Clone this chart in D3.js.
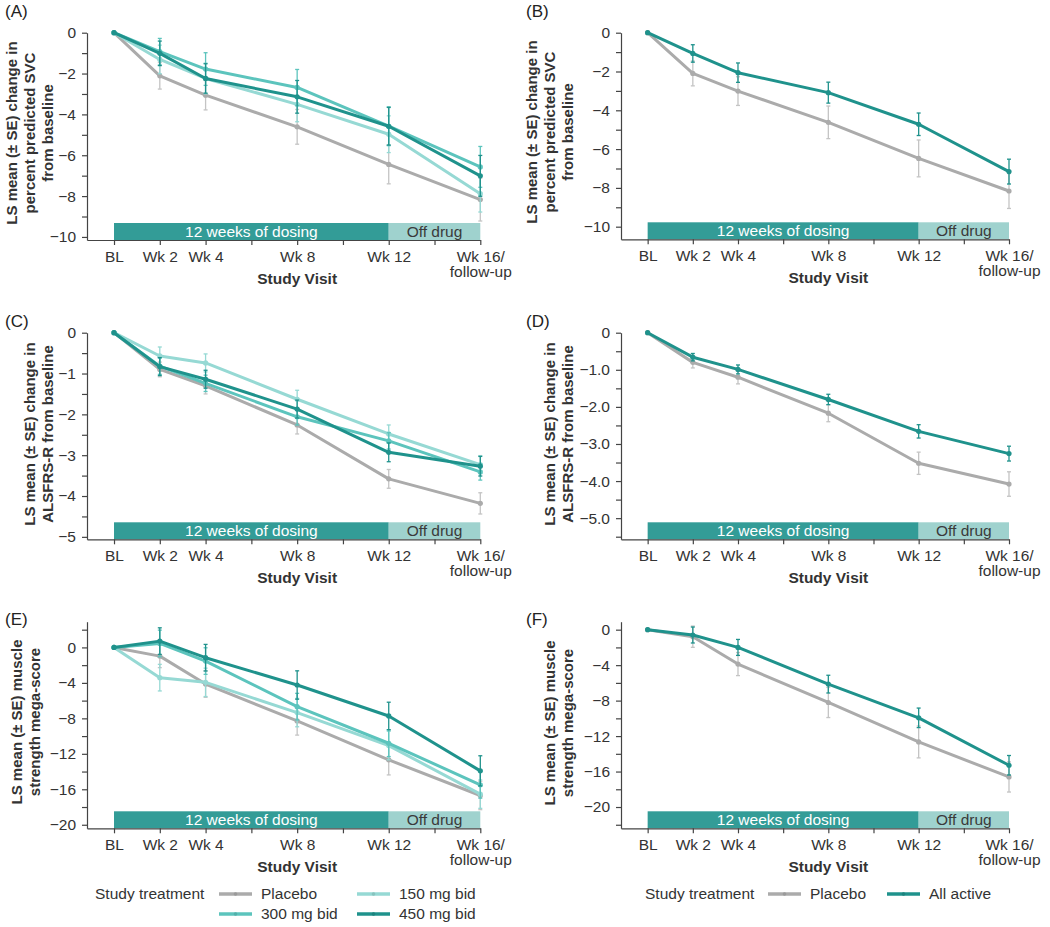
<!DOCTYPE html>
<html><head><meta charset="utf-8">
<script src="https://cdn.jsdelivr.net/npm/d3@7"></script>
<style>
body{margin:0;background:#fff;}
svg{display:block;font-family:"Liberation Sans",Arial,Helvetica,sans-serif;}
</style></head>
<body><svg id="chart" width="1050" height="927"></svg>
<script>
// ---------- DATA ----------
const weeks = [0, 2, 4, 8, 12, 16];
const visitLabels = ["BL", "Wk 2", "Wk 4", "Wk 8", "Wk 12", "Wk 16/|follow-up"];
const xTickWeeks = [0, 2, 4, 6, 8, 10, 12, 14, 16];
const doseGroups = ["Placebo", "150 mg bid", "300 mg bid", "450 mg bid"];
const pooledGroups = ["Placebo", "All active"];
const legendTitle = "Study treatment";
const dosingLabels = ["12 weeks of dosing", "Off drug"];
const dosingWeeks = [0, 12, 16];

// (A) percent predicted SVC by dose
const svcPlacebo   = [0, -2.11, -3.06, -4.61, -6.45, -8.17];
const svcPlaceboSE = [0, 0.65, 0.72, 0.85, 0.95, 1.05];
const svc150       = [0, -1.31, -2.24, -3.51, -4.97, -7.88];
const svc150SE     = [0, 0.70, 0.75, 0.85, 0.90, 0.90];
const svc300       = [0, -0.93, -1.78, -2.68, -4.58, -6.57];
const svc300SE     = [0, 0.65, 0.80, 0.88, 0.95, 1.00];
const svc450       = [0, -1.01, -2.24, -3.14, -4.58, -7.01];
const svc450SE     = [0, 0.60, 0.72, 0.80, 0.92, 1.00];
// (B) percent predicted SVC pooled
const svcPoolPlacebo   = [0, -2.10, -3.01, -4.62, -6.48, -8.16];
const svcPoolPlaceboSE = [0, 0.64, 0.74, 0.84, 0.95, 0.90];
const svcPoolActive    = [0, -1.07, -2.06, -3.09, -4.72, -7.16];
const svcPoolActiveSE  = [0, 0.45, 0.50, 0.54, 0.58, 0.64];
// (C) ALSFRS-R by dose
const alsPlacebo   = [0, -0.90, -1.30, -2.26, -3.58, -4.18];
const alsPlaceboSE = [0, 0.18, 0.20, 0.22, 0.23, 0.26];
const als150       = [0, -0.57, -0.74, -1.63, -2.48, -3.23];
const als150SE     = [0, 0.22, 0.22, 0.22, 0.22, 0.22];
const als300       = [0, -0.82, -1.24, -2.06, -2.65, -3.41];
const als300SE     = [0, 0.20, 0.20, 0.20, 0.20, 0.20];
const als450       = [0, -0.83, -1.14, -1.87, -2.93, -3.27];
const als450SE     = [0, 0.22, 0.22, 0.22, 0.23, 0.24];
// (D) ALSFRS-R pooled
const alsPoolPlacebo   = [0, -0.80, -1.20, -2.17, -3.52, -4.08];
const alsPoolPlaceboSE = [0, 0.15, 0.18, 0.23, 0.30, 0.33];
const alsPoolActive    = [0, -0.66, -0.99, -1.80, -2.66, -3.26];
const alsPoolActiveSE  = [0, 0.10, 0.12, 0.14, 0.18, 0.20];
// (E) muscle strength mega-score by dose
const msPlacebo   = [0, -0.98, -4.13, -8.29, -12.68, -16.70];
const msPlaceboSE = [0, 1.3, 1.5, 1.6, 1.7, 1.6];
const ms150       = [0, -3.41, -3.94, -7.35, -11.07, -16.55];
const ms150SE     = [0, 1.5, 1.6, 1.6, 1.6, 1.6];
const ms300       = [0, 0.45, -1.54, -6.68, -10.81, -15.50];
const ms300SE     = [0, 1.5, 1.5, 1.5, 1.5, 1.5];
const ms450       = [0, 0.71, -1.16, -4.24, -7.73, -13.92];
const ms450SE     = [0, 1.5, 1.5, 1.6, 1.55, 1.7];
// (F) muscle strength mega-score pooled
const msPoolPlacebo   = [0, -0.79, -3.88, -8.21, -12.66, -16.61];
const msPoolPlaceboSE = [0, 1.2, 1.3, 1.7, 1.8, 1.7];
const msPoolActive    = [0, -0.60, -2.00, -6.14, -9.94, -15.29];
const msPoolActiveSE  = [0, 0.9, 0.9, 1.0, 1.1, 1.1];

// y tick values (labelled) and minor ticks
const yTicksSVC = [0, -2, -4, -6, -8, -10];
const yMinorSVC = [-1, -3, -5, -7, -9];
const yTicksALS = [0, -1, -2, -3, -4, -5];
const yMinorALS = [-0.5, -1.5, -2.5, -3.5, -4.5];
const yTicksALSd = [0, -1, -2, -3, -4, -5];
const yMinorALSd = [-0.5, -1.5, -2.5, -3.5, -4.5, -5.5];
const yTicksMS = [0, -4, -8, -12, -16, -20];
const yMinorMSe = [2, -2, -6, -10, -14, -18];
const yMinorMSf = [-2, -6, -10, -14, -18, -22];

// ---------- STYLE ----------
const colors = {
  "Placebo": "#ababab",
  "150 mg bid": "#96d9d4",
  "300 mg bid": "#5cc4bd",
  "450 mg bid": "#1f928c",
  "All active": "#1f928c"
};
const dosingColors = ["#339c97", "#9fd2ce"];
const textColor = "#333";
const svg = d3.select("#chart");
svg.append("rect").attr("width", 1050).attr("height", 927).attr("fill", "#fff");

const minus = s => String(s).replace("-", "\u2212");
const fmtInt = d => minus(d3.format("d")(d));
const fmtD1 = d => d === 0 ? "0" : minus(d3.format(".1f")(d));

const panels = [
  { tag: "(A)", tagPos: [5, 17], axisX: 87, xEnd: 480.3, yRange: [32.7, 240], yDomain: [0, -10.15],
    ticks: yTicksSVC, minor: yMinorSVC, fmt: fmtInt,
    ylab: ["LS mean (\u00b1 SE) change in", "percent predicted SVC", "from baseline"], ylabX: 52.5, ylabY: 133,
    series: [[doseGroups[0], svcPlacebo, svcPlaceboSE], [doseGroups[1], svc150, svc150SE], [doseGroups[2], svc300, svc300SE], [doseGroups[3], svc450, svc450SE]] },
  { tag: "(B)", tagPos: [526, 17], axisX: 621, xEnd: 1009, yRange: [32.7, 239.3], yDomain: [0, -10.65],
    ticks: yTicksSVC, minor: yMinorSVC, fmt: fmtInt,
    ylab: ["LS mean (\u00b1 SE) change in", "percent predicted SVC", "from baseline"], ylabX: 573, ylabY: 132,
    series: [[pooledGroups[0], svcPoolPlacebo, svcPoolPlaceboSE], [pooledGroups[1], svcPoolActive, svcPoolActiveSE]] },
  { tag: "(C)", tagPos: [5, 327], axisX: 87, xEnd: 480.3, yRange: [332.7, 539.3], yDomain: [0, -5.06],
    ticks: yTicksALS, minor: yMinorALS, fmt: fmtInt,
    ylab: ["LS mean (\u00b1 SE) change in", "ALSFRS-R from baseline"], ylabX: 52.5, ylabY: 434,
    series: [[doseGroups[0], alsPlacebo, alsPlaceboSE], [doseGroups[1], als150, als150SE], [doseGroups[2], als300, als300SE], [doseGroups[3], als450, als450SE]] },
  { tag: "(D)", tagPos: [526, 327], axisX: 621, xEnd: 1009, yRange: [332.7, 539.3], yDomain: [0, -5.57],
    ticks: yTicksALSd, minor: yMinorALSd, fmt: fmtD1,
    ylab: ["LS mean (\u00b1 SE) change in", "ALSFRS-R from baseline"], ylabX: 573, ylabY: 434,
    series: [[pooledGroups[0], alsPoolPlacebo, alsPoolPlaceboSE], [pooledGroups[1], alsPoolActive, alsPoolActiveSE]] },
  { tag: "(E)", tagPos: [5, 625], axisX: 87, xEnd: 480.3, yRange: [621.7, 828.3], yDomain: [2.9, -20.4],
    ticks: yTicksMS, minor: yMinorMSe, fmt: fmtInt,
    ylab: ["LS mean (\u00b1 SE) muscle", "strength mega-score"], ylabX: 39.7, ylabY: 722,
    series: [[doseGroups[0], msPlacebo, msPlaceboSE], [doseGroups[1], ms150, ms150SE], [doseGroups[2], ms300, ms300SE], [doseGroups[3], ms450, ms450SE]],
    legend: { title: [95, 894], items: doseGroups, swatchX: [219, 357], rows: [894, 914], textOff: 42 } },
  { tag: "(F)", tagPos: [526, 625], axisX: 621, xEnd: 1009, yRange: [621.7, 828.3], yDomain: [0.9, -22.4],
    ticks: yTicksMS, minor: yMinorMSf, fmt: fmtInt,
    ylab: ["LS mean (\u00b1 SE) muscle", "strength mega-score"], ylabX: 573, ylabY: 723,
    series: [[pooledGroups[0], msPoolPlacebo, msPoolPlaceboSE], [pooledGroups[1], msPoolActive, msPoolActiveSE]],
    legend: { title: [645, 894], items: pooledGroups, swatchX: [768, 887], rows: [894, 894], textOff: 42 } }
];

const xMin = -1.18;

panels.forEach(p => {
  const g = svg.append("g");
  const x = d3.scaleLinear().domain([xMin, 16]).range([p.axisX, p.xEnd]);
  const y = d3.scaleLinear().domain(p.yDomain).range(p.yRange);
  const yBot = p.yRange[1];

  // panel tag
  g.append("text").attr("x", p.tagPos[0]).attr("y", p.tagPos[1]).attr("font-size", 17).attr("fill", "#222").text(p.tag);

  // dosing bar
  const barH = 17;
  [0, 1].forEach(i => {
    const x0 = x(dosingWeeks[i]), x1 = x(dosingWeeks[i + 1]);
    g.append("rect").attr("x", x0).attr("y", yBot - barH).attr("width", x1 - x0).attr("height", barH).attr("fill", dosingColors[i]);
    g.append("text").attr("x", (x0 + x1) / 2).attr("y", yBot - barH / 2).attr("dy", "0.35em")
      .attr("text-anchor", "middle").attr("font-size", 15.5).attr("fill", i === 0 ? "#fff" : "#3a3a3a").text(dosingLabels[i]);
  });

  // y axis
  const allY = p.ticks.concat(p.minor).filter(v => v <= p.yDomain[0] && v >= p.yDomain[1]);
  const yAxis = d3.axisLeft(y).tickValues(allY).tickSize(5).tickSizeOuter(0).tickPadding(6)
    .tickFormat(d => p.ticks.includes(d) ? p.fmt(d) : "");
  const ya = g.append("g").attr("transform", `translate(${p.axisX},0)`).call(yAxis);
  ya.selectAll("text").attr("font-size", 15.5).attr("fill", textColor).attr("font-family", null);
  ya.selectAll("line,path").attr("stroke", "#444").attr("stroke-width", 1.2);

  // x axis
  const xAxis = d3.axisBottom(x).tickValues(xTickWeeks).tickSize(5).tickSizeOuter(0)
    .tickFormat(d => { const i = weeks.indexOf(d); return i >= 0 ? visitLabels[i] : ""; });
  const xa = g.append("g").attr("transform", `translate(0,${yBot})`).call(xAxis);
  xa.selectAll("line,path").attr("stroke", "#444").attr("stroke-width", 1.2);
  xa.selectAll("text").attr("font-size", 15.5).attr("fill", textColor).attr("font-family", null)
    .attr("dy", null).attr("y", 21.5)
    .each(function () {
      const t = d3.select(this); const parts = t.text().split("|");
      t.text(null);
      parts.forEach((s, k) => t.append("tspan").attr("x", 0).attr("y", 21.5 + k * 15.5).text(s));
    });
  g.append("text").attr("x", x(8)).attr("y", yBot + 44).attr("text-anchor", "middle")
    .attr("font-size", 15.5).attr("font-weight", "bold").attr("fill", textColor).text("Study Visit");

  // y label
  const yl = g.append("text").attr("transform", `translate(${p.ylabX},${p.ylabY}) rotate(-90)`)
    .attr("text-anchor", "middle").attr("font-size", 15).attr("font-weight", "bold").attr("fill", textColor);
  const n = p.ylab.length;
  p.ylab.forEach((s, k) => yl.append("tspan").attr("x", 0).attr("y", -(n - 1 - k) * 17.8).text(s));

  // series
  const line = d3.line().x(d => x(d.w)).y(d => y(d.v));
  p.series.forEach(([name, vals, se]) => {
    const col = colors[name];
    const pts = weeks.map((w, i) => ({ w, v: vals[i], se: se[i] }));
    const sg = g.append("g");
    const ebCol = name === "Placebo" ? "#c4c4c4" : col;
    pts.filter(d => d.se > 0).forEach(d => {
      const cx = x(d.w);
      sg.append("line").attr("x1", cx).attr("x2", cx).attr("y1", y(d.v + d.se)).attr("y2", y(d.v - d.se))
        .attr("stroke", ebCol).attr("stroke-width", 1.3);
      [d.v + d.se, d.v - d.se].forEach(e => sg.append("line").attr("x1", cx - 2).attr("x2", cx + 2)
        .attr("y1", y(e)).attr("y2", y(e)).attr("stroke", ebCol).attr("stroke-width", 1.3));
    });
    sg.append("path").datum(pts).attr("d", line).attr("fill", "none").attr("stroke", col)
      .attr("stroke-width", 3).attr("stroke-linejoin", "round");
    sg.selectAll("circle").data(pts).join("circle").attr("cx", d => x(d.w)).attr("cy", d => y(d.v))
      .attr("r", 2.6).attr("fill", col);
  });

  // legend
  if (p.legend) {
    const L = p.legend;
    g.append("text").attr("x", L.title[0]).attr("y", L.title[1]).attr("dy", "0.35em")
      .attr("font-size", 15.5).attr("fill", textColor).text(legendTitle);
    L.items.forEach((name, i) => {
      const col = i % 2; const row = Math.floor(i / 2);
      const sx = L.swatchX[col], sy = L.rows[row];
      g.append("line").attr("x1", sx).attr("x2", sx + 33).attr("y1", sy).attr("y2", sy)
        .attr("stroke", colors[name]).attr("stroke-width", 3.5);
      g.append("circle").attr("cx", sx + 16.5).attr("cy", sy).attr("r", 1.8).attr("fill", d3.color(colors[name]).darker(0.3));
      g.append("text").attr("x", sx + L.textOff).attr("y", sy).attr("dy", "0.35em")
        .attr("font-size", 15.5).attr("fill", textColor).text(name);
    });
  }
});
</script></body></html>
